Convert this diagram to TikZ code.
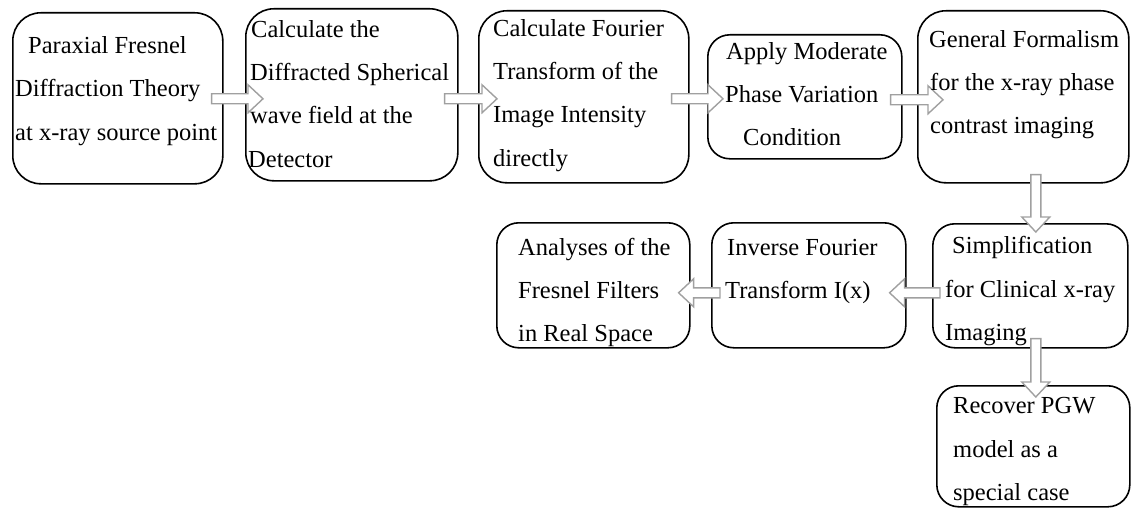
\documentclass[tikz,border=0pt]{standalone}
\usepackage{fontspec}
\setmainfont{Liberation Serif}
\usetikzlibrary{calc}
\definecolor{arrgray}{RGB}{160,160,160}
\tikzset{
  box/.style={draw=black, line width=1.6pt, fill=white, inner sep=0pt, anchor=north west},
  txt/.style={inner sep=0pt, anchor=base west, font=\fontsize{24.5}{43}\selectfont},
  blockarrow/.style={draw=arrgray, fill=white, line width=1.4pt, line join=miter}
}
\newcommand\blockarr[2]{%
  \path[blockarrow] let \p1=(#1), \p2=(#2),
    \n1={atan2(\y2-\y1,\x2-\x1)}, \n2={veclen(\x2-\x1,\y2-\y1)} in
    [shift={(\p1)}, rotate=\n1]
    (0,-5) -- ({\n2-15},-5) -- ({\n2-15},-14) -- (\n2,0) -- ({\n2-15},14) -- ({\n2-15},5) -- (0,5) -- cycle;}
\begin{document}
\begin{tikzpicture}[x=1pt,y=1pt]
\useasboundingbox (0,0) rectangle (1132,-508);
% boxes
\node[box, rounded corners=28pt, minimum width=210pt, minimum height=171pt] (b1) at (12,-12) {};
\node[box, rounded corners=28pt, minimum width=212pt, minimum height=172pt] (b2) at (245,-8) {};
\node[box, rounded corners=28pt, minimum width=210pt, minimum height=172pt] (b3) at (478,-10) {};
\node[box, rounded corners=22pt, minimum width=194pt, minimum height=124pt] (b4) at (707,-34) {};
\node[box, rounded corners=28pt, minimum width=211pt, minimum height=172pt] (b5) at (917,-10) {};
\node[box, rounded corners=22pt, minimum width=195pt, minimum height=124pt] (b6) at (932,-223) {};
\node[box, rounded corners=22pt, minimum width=193pt, minimum height=121pt] (b7) at (936,-385) {};
\node[box, rounded corners=22pt, minimum width=194pt, minimum height=125pt] (b8) at (711,-222) {};
\node[box, rounded corners=22pt, minimum width=193pt, minimum height=125pt] (b9) at (496,-222) {};
% arrow end points
\coordinate (a12s) at ([xshift=-12pt,yshift=-0.5pt]b1.east);
\coordinate (a12e) at ([xshift=18pt,yshift=-4pt]b2.west);
\coordinate (a23s) at ([xshift=-14pt,yshift=-4pt]b2.east);
\coordinate (a23e) at ([xshift=19pt,yshift=-2pt]b3.west);
\coordinate (a34s) at ([xshift=-18pt,yshift=-2pt]b3.east);
\coordinate (a34e) at ([xshift=16pt,yshift=-2pt]b4.west);
\coordinate (a45s) at ([xshift=-12pt,yshift=-3pt]b4.east);
\coordinate (a45e) at ([xshift=26pt,yshift=-3pt]b5.west);
\coordinate (a56s) at ([xshift=12.5pt,yshift=9pt]b5.south);
\coordinate (a56e) at ([xshift=5.5pt,yshift=-9pt]b6.north);
\coordinate (a67s) at ([xshift=5.5pt,yshift=10pt]b6.south);
\coordinate (a67e) at ([xshift=2.5pt,yshift=-12pt]b7.north);
\coordinate (a68s) at ([xshift=8pt,yshift=-7pt]b6.west);
\coordinate (a68e) at ([xshift=-17pt,yshift=-7.5pt]b8.east);
\coordinate (a89s) at ([xshift=9pt,yshift=-7.5pt]b8.west);
\coordinate (a89e) at ([xshift=-12pt,yshift=-7.5pt]b9.east);
% arrows
\blockarr{a12s}{a12e}
\blockarr{a23s}{a23e}
\blockarr{a34s}{a34e}
\blockarr{a45s}{a45e}
\blockarr{a56s}{a56e}
\blockarr{a67s}{a67e}
\blockarr{a68s}{a68e}
\blockarr{a89s}{a89e}
% texts
\node[txt] (t1a) at (28,-54) {Paraxial Fresnel};
\node[txt] (t1b) at (15,-97) {Diffraction Theory};
\node[txt] (t1c) at (15,-140) {at x-ray source point};
\node[txt] (t2a) at (251,-38) {Calculate the};
\node[txt] (t2b) at (250,-81) {Diffracted Spherical};
\node[txt] (t2c) at (250,-124) {wave field at the};
\node[txt] (t2d) at (248,-167) {Detector};
\node[txt] (t3a) at (493,-37) {Calculate Fourier};
\node[txt] (t3b) at (493,-80) {Transform of the};
\node[txt] (t3c) at (493,-123) {Image Intensity};
\node[txt] (t3d) at (493,-166) {directly};
\node[txt] (t4a) at (726,-60) {Apply Moderate};
\node[txt] (t4b) at (725,-103) {Phase Variation};
\node[txt] (t4c) at (743,-146) {Condition};
\node[txt] (t5a) at (929,-48) {General Formalism};
\node[txt] (t5b) at (930,-91) {for the x-ray phase};
\node[txt] (t5c) at (930,-134) {contrast imaging};
\node[txt] (t6a) at (952,-253) {Simplification};
\node[txt] (t6b) at (945,-297) {for Clinical x-ray};
\node[txt] (t6c) at (945,-340) {Imaging};
\node[txt] (t7a) at (953,-413) {Recover PGW};
\node[txt] (t7b) at (953,-457) {model as a};
\node[txt] (t7c) at (953,-500) {special case};
\node[txt] (t8a) at (727,-255) {Inverse Fourier};
\node[txt] (t8b) at (725,-298) {Transform I(x)};
\node[txt] (t9a) at (518,-255) {Analyses of the};
\node[txt] (t9b) at (518,-298) {Fresnel Filters};
\node[txt] (t9c) at (518,-341) {in Real Space};
\end{tikzpicture}
\end{document}
